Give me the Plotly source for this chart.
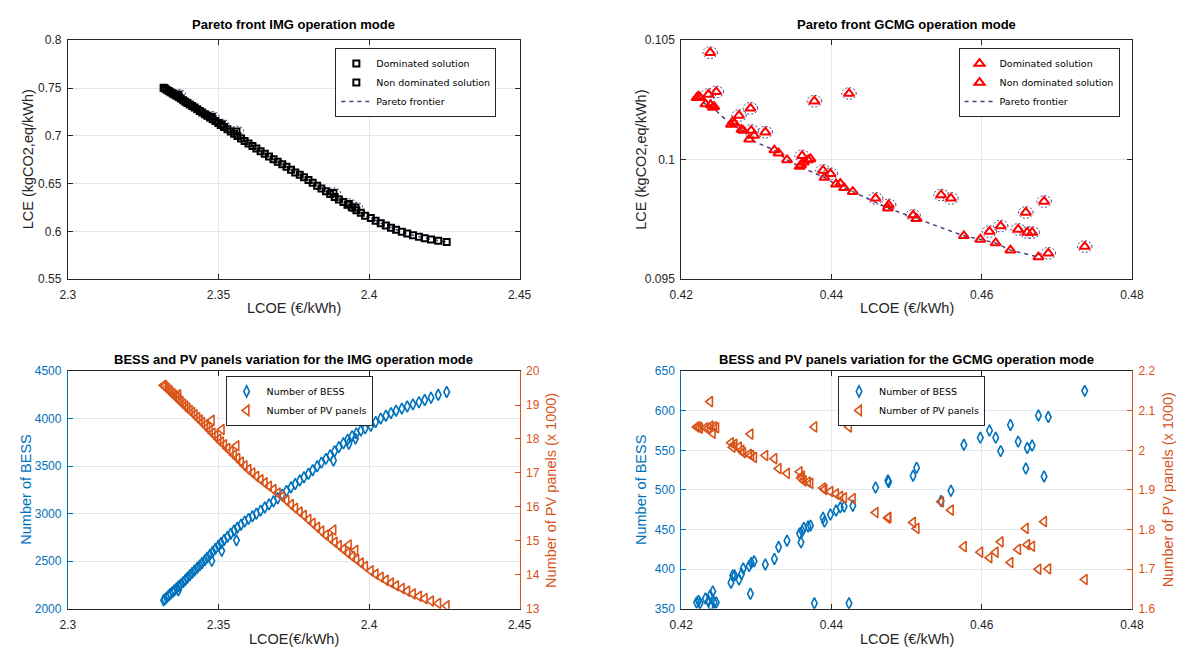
import numpy as np
import plotly.graph_objects as go

W, H = 1192, 655

# ---------------- IMG operation mode (LCOE, LCE, BESS count, PV panels x1000, dominated flag)
img_lcoe = [2.3318, 2.3322, 2.3328, 2.3335, 2.3341, 2.3348, 2.3354, 2.3361, 2.3367, 2.3368,
            2.3375, 2.3383, 2.3390, 2.3397, 2.3405, 2.3413, 2.3421, 2.3430, 2.3438, 2.3446,
            2.3455, 2.3463, 2.3472, 2.3478, 2.3481, 2.3490, 2.3500, 2.3509, 2.3511, 2.3519,
            2.3530, 2.3541, 2.3552, 2.3560, 2.3563, 2.3575, 2.3587, 2.3600, 2.3613, 2.3626,
            2.3640, 2.3654, 2.3668, 2.3683, 2.3697, 2.3712, 2.3726, 2.3741, 2.3755, 2.3770,
            2.3784, 2.3799, 2.3813, 2.3828, 2.3842, 2.3857, 2.3871, 2.3882, 2.3886, 2.3900,
            2.3915, 2.3929, 2.3933, 2.3944, 2.3955, 2.3958, 2.3973, 2.3987, 2.4006, 2.4022,
            2.4039, 2.4056, 2.4073, 2.4090, 2.4109, 2.4127, 2.4146, 2.4166, 2.4185, 2.4206,
            2.4230, 2.4258]
img_lce = [0.7503, 0.7495, 0.7482, 0.7469, 0.7456, 0.7443, 0.7431, 0.7420, 0.7432, 0.7406,
           0.7390, 0.7371, 0.7357, 0.7343, 0.7327, 0.7311, 0.7295, 0.7277, 0.7260, 0.7243,
           0.7225, 0.7210, 0.7192, 0.7200, 0.7174, 0.7155, 0.7134, 0.7114, 0.7120, 0.7092,
           0.7068, 0.7044, 0.7022, 0.7045, 0.6999, 0.6972, 0.6946, 0.6919, 0.6894, 0.6868,
           0.6839, 0.6811, 0.6782, 0.6754, 0.6728, 0.6702, 0.6675, 0.6645, 0.6616, 0.6591,
           0.6566, 0.6537, 0.6507, 0.6477, 0.6449, 0.6419, 0.6390, 0.6400, 0.6360, 0.6333,
           0.6306, 0.6279, 0.6285, 0.6248, 0.6250, 0.6220, 0.6193, 0.6164, 0.6140, 0.6110,
           0.6085, 0.6060, 0.6038, 0.6016, 0.5995, 0.5976, 0.5958, 0.5942, 0.5928, 0.5915,
           0.5902, 0.5888]
img_bess = [2090, 2101, 2119, 2140, 2158, 2178, 2195, 2216, 2195, 2237,
            2257, 2281, 2304, 2327, 2353, 2378, 2404, 2432, 2457, 2482,
            2512, 2539, 2570, 2505, 2601, 2631, 2663, 2692, 2610, 2724,
            2758, 2790, 2823, 2720, 2853, 2885, 2917, 2946, 2973, 3000,
            3033, 3066, 3098, 3131, 3163, 3201, 3239, 3278, 3312, 3349,
            3383, 3420, 3458, 3499, 3537, 3577, 3614, 3560, 3658, 3700,
            3741, 3778, 3735, 3816, 3790, 3845, 3874, 3897, 3925, 3965,
            4000, 4030, 4058, 4083, 4105, 4128, 4150, 4172, 4195, 4220,
            4250, 4280]
img_pv = [19.58, 19.55, 19.50, 19.44, 19.39, 19.33, 19.28, 19.22, 19.30, 19.16,
          19.10, 19.03, 18.97, 18.91, 18.84, 18.78, 18.71, 18.63, 18.56, 18.49,
          18.41, 18.34, 18.25, 18.55, 18.17, 18.09, 17.99, 17.91, 18.28, 17.83,
          17.72, 17.63, 17.53, 17.80, 17.43, 17.32, 17.21, 17.10, 17.00, 16.90,
          16.80, 16.71, 16.61, 16.51, 16.41, 16.30, 16.19, 16.07, 15.96, 15.85,
          15.75, 15.63, 15.52, 15.40, 15.29, 15.17, 15.07, 15.32, 14.96, 14.86,
          14.75, 14.65, 14.88, 14.54, 14.72, 14.45, 14.35, 14.25, 14.12, 14.02,
          13.93, 13.84, 13.76, 13.68, 13.60, 13.52, 13.44, 13.37, 13.30, 13.23,
          13.16, 13.09]
img_dom = [0, 0, 0, 0, 0, 0, 0, 0, 1, 0,
           0, 0, 0, 0, 0, 0, 0, 0, 0, 0,
           0, 0, 0, 1, 0, 0, 0, 0, 1, 0,
           0, 0, 0, 1, 0, 0, 0, 0, 0, 0,
           0, 0, 0, 0, 0, 0, 0, 0, 0, 0,
           0, 0, 0, 0, 0, 0, 0, 1, 0, 0,
           0, 0, 1, 0, 1, 0, 0, 0, 0, 0,
           0, 0, 0, 0, 0, 0, 0, 0, 0, 0,
           0, 0]

# ---------------- GCMG operation mode
gcmg_lcoe = [0.42205, 0.42230, 0.42250, 0.42322, 0.42362, 0.42385, 0.42392, 0.42420, 0.42438, 0.42466,
             0.42662, 0.42685, 0.42709, 0.42769, 0.42802, 0.42825, 0.42904, 0.42921, 0.42932, 0.42970,
             0.43119, 0.43240, 0.43296, 0.43408, 0.43576, 0.43594, 0.43609, 0.43631, 0.43688, 0.43720,
             0.43772, 0.43888, 0.43907, 0.43986, 0.44061, 0.44117, 0.44168, 0.44233, 0.44284, 0.44587,
             0.44751, 0.44760, 0.45086, 0.45133, 0.45459, 0.45590, 0.45762, 0.45981, 0.46103, 0.46186,
             0.46252, 0.46382, 0.46485, 0.46587, 0.46606, 0.46671, 0.46755, 0.46830, 0.46886, 0.47371]
gcmg_lce = [0.10259, 0.10266, 0.10260, 0.10233, 0.10273, 0.10448, 0.10229, 0.10218, 0.10222, 0.10284,
            0.10147, 0.10158, 0.10152, 0.10185, 0.10126, 0.10122, 0.10085, 0.10215, 0.10122, 0.10101,
            0.10115, 0.10040, 0.10027, 0.09999, 0.09971, 0.09978, 0.10016, 0.09989, 0.09999, 0.10003,
            0.10245, 0.09955, 0.09925, 0.09941, 0.09897, 0.09900, 0.09882, 0.10277, 0.09866, 0.09838,
            0.09797, 0.09811, 0.09767, 0.09753, 0.09852, 0.09838, 0.09681, 0.09666, 0.09699, 0.09651,
            0.09722, 0.09621, 0.09708, 0.09779, 0.09695, 0.09695, 0.09592, 0.09825, 0.09608, 0.09636]
gcmg_bess = [358, 360, 357, 363, 360, 367, 354, 372, 358, 358,
             383, 392, 392, 387, 394, 401, 404, 369, 408, 410,
             406, 413, 428, 436, 445, 434, 448, 452, 454, 455,
             357, 465, 460, 469, 474, 478, 479, 357, 480, 503,
             512, 510, 518, 528, 486, 499, 557, 566, 575, 566,
             549, 582, 561, 527, 553, 556, 594, 517, 592, 625]
gcmg_pv = [2.059, 2.059, 2.056, 2.057, 2.056, 2.123, 2.061, 2.043, 2.059, 2.057,
           2.019, 2.008, 2.015, 2.008, 2.000, 1.994, 1.990, 2.041, 1.987, 1.982,
           1.987, 1.979, 1.954, 1.942, 1.946, 1.930, 1.935, 1.923, 1.920, 1.917,
           2.059, 1.905, 1.901, 1.896, 1.890, 1.884, 1.880, 2.059, 1.878, 1.843,
           1.829, 1.831, 1.818, 1.803, 1.870, 1.849, 1.757, 1.743, 1.729, 1.743,
           1.769, 1.717, 1.750, 1.803, 1.762, 1.758, 1.700, 1.820, 1.701, 1.674]
gcmg_dom = [0, 0, 0, 0, 1, 1, 0, 0, 0, 1,
            0, 0, 0, 1, 0, 0, 0, 1, 1, 0,
            1, 0, 0, 0, 0, 0, 1, 0, 0, 0,
            1, 1, 0, 1, 0, 0, 0, 1, 0, 1,
            0, 1, 1, 0, 1, 1, 0, 0, 1, 0,
            1, 0, 1, 1, 1, 1, 0, 1, 1, 1]

# ---------------- styling constants
BLUE = "#0072BD"
ORANGE = "#D95319"
PURPLE = "#4d3b80"
AX = "#262626"
GRID = "#e6e6e6"
FONT = "Liberation Sans"

xL = [57 / W, 518 / W]
xR = [683 / W, 1143 / W]
yT = [1 - 278 / H, 1 - 34 / H]
yB = [1 - 615 / H, 1 - 372 / H]


def split(values, flags, want):
    return [v for v, f in zip(values, flags) if f == want]


def frontier(xs, ys, flags):
    pts = sorted((x, y) for x, y, f in zip(xs, ys, flags) if not f)
    fx, fy, best = [], [], float("inf")
    for x, y in pts:
        if y < best:
            fx.append(x)
            fy.append(y)
            best = y
    return fx, fy


def rings(xs, ys, rx, ry, n=30):
    t = np.linspace(0, 2 * np.pi, n)
    px, py = [], []
    for x0, y0 in zip(xs, ys):
        px += list(x0 + rx * np.cos(t)) + [None]
        py += list(y0 + ry * np.sin(t)) + [None]
    return px, py


fig = go.Figure()


def pareto_panel(xs, ys, flags, xa, ya, leg, symbol, color, msize, rx, ry):
    fx, fy = frontier(xs, ys, flags)
    fig.add_trace(go.Scatter(x=fx, y=fy, mode="lines", name="Pareto frontier",
                             line=dict(color=PURPLE, width=1.5, dash="4px,4px"),
                             xaxis=xa, yaxis=ya, legend=leg, legendrank=3))
    dx, dy = split(xs, flags, 1), split(ys, flags, 1)
    ex, ey = rings(dx, dy, rx, ry)
    fig.add_trace(go.Scatter(x=ex, y=ey, mode="lines", showlegend=False,
                             line=dict(color=PURPLE, width=1, dash="2px,2px"),
                             xaxis=xa, yaxis=ya, hoverinfo="skip"))
    fig.add_trace(go.Scatter(x=split(xs, flags, 0), y=split(ys, flags, 0), mode="markers",
                             name="Non dominated solution",
                             marker=dict(symbol=symbol, size=msize, color=color,
                                         line=dict(color=color, width=2)),
                             xaxis=xa, yaxis=ya, legend=leg, legendrank=2))
    fig.add_trace(go.Scatter(x=dx, y=dy, mode="markers", name="Dominated solution",
                             marker=dict(symbol=symbol, size=msize, color=color,
                                         line=dict(color=color, width=2)),
                             xaxis=xa, yaxis=ya, legend=leg, legendrank=1))


pareto_panel(img_lcoe, img_lce, img_dom, "x", "y", "legend",
             "square-open", "black", 6, 0.00245, 0.0056)
pareto_panel(gcmg_lcoe, gcmg_lce, gcmg_dom, "x2", "y2", "legend2",
             "triangle-up-open", "#ff0000", 9, 0.00098, 0.000245)


def sizing_panel(xs, bess, pv, xa, ya, ya2, leg):
    fig.add_trace(go.Scatter(x=xs, y=bess, mode="markers", name="Number of BESS",
                             marker=dict(symbol="diamond-tall-open", size=8, color=BLUE,
                                         line=dict(color=BLUE, width=1.6)),
                             xaxis=xa, yaxis=ya, legend=leg))
    fig.add_trace(go.Scatter(x=xs, y=pv, mode="markers", name="Number of PV panels",
                             marker=dict(symbol="triangle-left-open", size=9, color=ORANGE,
                                         line=dict(color=ORANGE, width=1.6)),
                             xaxis=xa, yaxis=ya2, legend=leg))


sizing_panel(img_lcoe, img_bess, img_pv, "x3", "y3", "y5", "legend3")
sizing_panel(gcmg_lcoe, gcmg_bess, gcmg_pv, "x4", "y4", "y6", "legend4")

tickfont = dict(family=FONT, size=12, color=AX)


def xaxis(domain, anchor, rng, dtick):
    return dict(domain=domain, anchor=anchor, range=rng, dtick=dtick, tick0=rng[0],
                ticks="inside", ticklen=5, tickcolor=AX, showline=True, linecolor=AX,
                linewidth=1, mirror="ticks", showgrid=True, gridcolor=GRID,
                zeroline=False, tickfont=tickfont, ticklabelstandoff=5)


def yaxis(domain, anchor, rng, dtick, color=AX, grid=GRID, mirror="ticks"):
    return dict(domain=domain, anchor=anchor, range=rng, dtick=dtick, tick0=rng[0],
                ticks="inside", ticklen=5, tickcolor=color, showline=True, linecolor=color,
                linewidth=1, mirror=mirror, showgrid=True, gridcolor=grid,
                zeroline=False, tickfont=dict(family=FONT, size=12, color=color),
                ticklabelstandoff=3)


def right_axis(over, anchor, rng, dtick, color):
    return dict(overlaying=over, anchor=anchor, side="right", range=rng, dtick=dtick,
                tick0=rng[0], ticks="inside", ticklen=5, tickcolor=color, showline=True,
                linecolor=color, linewidth=1, showgrid=False, zeroline=False,
                tickfont=dict(family=FONT, size=12, color=color), ticklabelstandoff=3)


def legend_box(x, y):
    return dict(x=x / W, y=1 - y / H, xanchor="left", yanchor="top",
                bgcolor="white", bordercolor=AX, borderwidth=1,
                font=dict(family="DejaVu Sans", size=9.5, color="black"),
                itemwidth=30, tracegroupgap=0)


fig.update_layout(
    width=W, height=H, margin=dict(l=0, r=0, t=0, b=0),
    paper_bgcolor="white", plot_bgcolor="white",
    xaxis=xaxis(xL, "y", [2.3, 2.45], 0.05),
    yaxis=yaxis(yT, "x", [0.55, 0.8], 0.05),
    xaxis2=xaxis(xR, "y2", [0.42, 0.48], 0.02),
    yaxis2=yaxis(yT, "x2", [0.095, 0.105], 0.005),
    xaxis3=xaxis(xL, "y3", [2.3, 2.45], 0.05),
    yaxis3=yaxis(yB, "x3", [2000, 4500], 500, color=BLUE, grid="#dfe9f4", mirror=False),
    yaxis5=right_axis("y3", "x3", [13, 20], 1, ORANGE),
    xaxis4=xaxis(xR, "y4", [0.42, 0.48], 0.02),
    yaxis4=yaxis(yB, "x4", [350, 650], 50, color=BLUE, grid="#dfe9f4", mirror=False),
    yaxis6=right_axis("y4", "x4", [1.6, 2.2], 0.1, ORANGE),
    legend=legend_box(330, 42),
    legend2=legend_box(966, 42),
    legend3=legend_box(218, 377),
    legend4=legend_box(843, 377),
    showlegend=True,
)


def label(text, x, y, size=14.5, color=AX, angle=0, bold=False):
    fig.add_annotation(text=f"<b>{text}</b>" if bold else text,
                       x=x / W, y=1 - y / H, xref="paper", yref="paper",
                       showarrow=False, textangle=angle, xanchor="center", yanchor="middle",
                       font=dict(family=FONT, size=size, color=color))


# titles
label("Pareto front IMG operation mode", 287.5, 18, size=13, color="black", bold=True)
label("Pareto front GCMG operation mode", 913, 18, size=13, color="black", bold=True)
label("BESS and PV panels variation for the IMG operation mode", 287.5, 360, size=13,
      color="black", bold=True)
label("BESS and PV panels variation for the GCMG operation mode", 913, 360, size=13,
      color="black", bold=True)

# axis titles
label("LCOE (€/kWh)", 287.5, 308)
label("LCOE (€/kWh)", 913, 308)
label("LCOE(€/kWh)", 287.5, 646)
label("LCOE (€/kWh)", 913, 646)
label("LCE (kgCO2,eq/kWh)", 16, 156, angle=-90)
label("LCE (kgCO2,eq/kWh)", 642, 156, angle=-90)
label("Number of BESS", 14, 493.5, color=BLUE, angle=-90)
label("Number of PV panels (x 1000)", 550, 493.5, color=ORANGE, angle=-90)
label("Number of BESS", 642, 493.5, color=BLUE, angle=-90)
label("Number of PV panels (x 1000)", 1180, 493.5, color=ORANGE, angle=-90)

fig.write_html("out.html")
